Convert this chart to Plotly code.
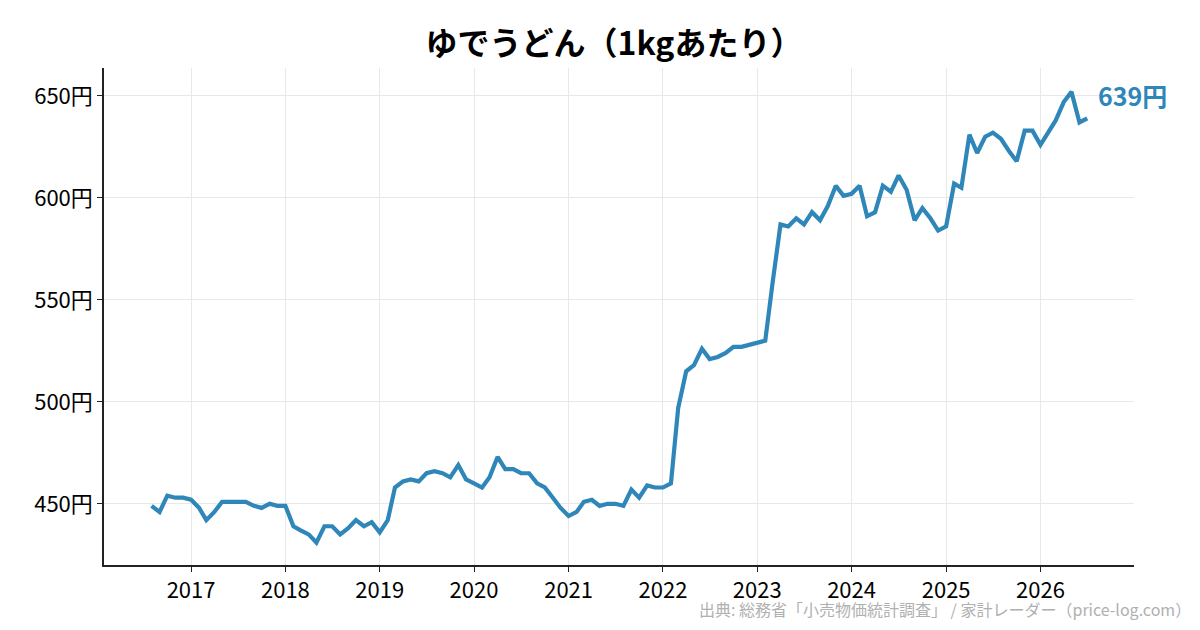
import pandas as pd
import plotly.graph_objects as go

# 月次データ（2016年8月〜2026年7月）
start_month = "2016-08-01"
prices = [
    449, 446, 454, 453, 453,
    452, 448, 442, 446, 451, 451, 451, 451, 449, 448, 450, 449,
    449, 439, 437, 435, 431, 439, 439, 435, 438, 442, 439, 441,
    436, 442, 458, 461, 462, 461, 465, 466, 465, 463, 469, 462,
    460, 458, 463, 473, 467, 467, 465, 465, 460, 458, 453, 448,
    444, 446, 451, 452, 449, 450, 450, 449, 457, 453, 459, 458,
    458, 460, 497, 515, 518, 526, 521, 522, 524, 527, 527, 528,
    529, 530, 558, 587, 586, 590, 587, 593, 589, 596, 606, 601,
    602, 606, 591, 593, 606, 603, 611, 604, 589, 595, 590, 584,
    586, 607, 605, 631, 622, 630, 632, 629, 623, 618, 633, 633,
    626, 632, 638, 647, 652, 637, 639,
]
months = pd.date_range(start_month, periods=len(prices), freq="MS")

y_ticks = [450, 500, 550, 600, 650]
y_tick_labels = [f"{v}円" for v in y_ticks]
x_ticks = pd.date_range("2017-01-01", "2026-01-01", freq="YS")
x_tick_labels = [str(d.year) for d in x_ticks]

title = "ゆでうどん（1kgあたり）"
source = "出典: 総務省「小売物価統計調査」 / 家計レーダー（price-log.com）"
line_color = "#2E86B9"
font = "Noto Sans CJK JP"

fig = go.Figure()
fig.add_trace(go.Scatter(x=months, y=prices, mode="lines",
                         line=dict(color=line_color, width=4.2),
                         hoverinfo="x+y", showlegend=False))

# 最新値ラベル
fig.add_annotation(x=months[-1], y=prices[-1], text=f"{prices[-1]}円",
                   showarrow=False, xanchor="left", yanchor="middle",
                   xshift=9, yshift=23,
                   font=dict(family=font, size=25, color=line_color, weight="bold"))

fig.add_annotation(text=source, xref="paper", yref="paper", x=1.0573, y=-0.089,
                   xanchor="right", yanchor="middle", showarrow=False,
                   font=dict(family=font, size=16, color="#b0b0b0"))

fig.update_layout(
    width=1200, height=630,
    margin=dict(l=96, r=74, t=60, b=73),
    paper_bgcolor="white", plot_bgcolor="white",
    font=dict(family=font, size=22, color="black"),
    title=dict(text=title, x=0.505, xanchor="center", y=0.943, yanchor="middle",
               font=dict(family=font, size=32, color="black", weight="bold")),
)
fig.update_xaxes(range=["2016-01-30", "2026-12-29"],
                 tickvals=x_ticks, ticktext=x_tick_labels,
                 showgrid=True, gridcolor="#e8e8e8", gridwidth=1,
                 showline=True, linecolor="#222", linewidth=1.5,
                 ticks="outside", ticklen=5, tickcolor="#222",
                 zeroline=False)
fig.update_yaxes(range=[420, 663.7],
                 tickvals=y_ticks, ticktext=y_tick_labels,
                 showgrid=True, gridcolor="#e8e8e8", gridwidth=1,
                 showline=True, linecolor="#222", linewidth=1.5,
                 ticks="outside", ticklen=5, tickcolor="#222",
                 zeroline=False)

fig.write_html("out.html")
